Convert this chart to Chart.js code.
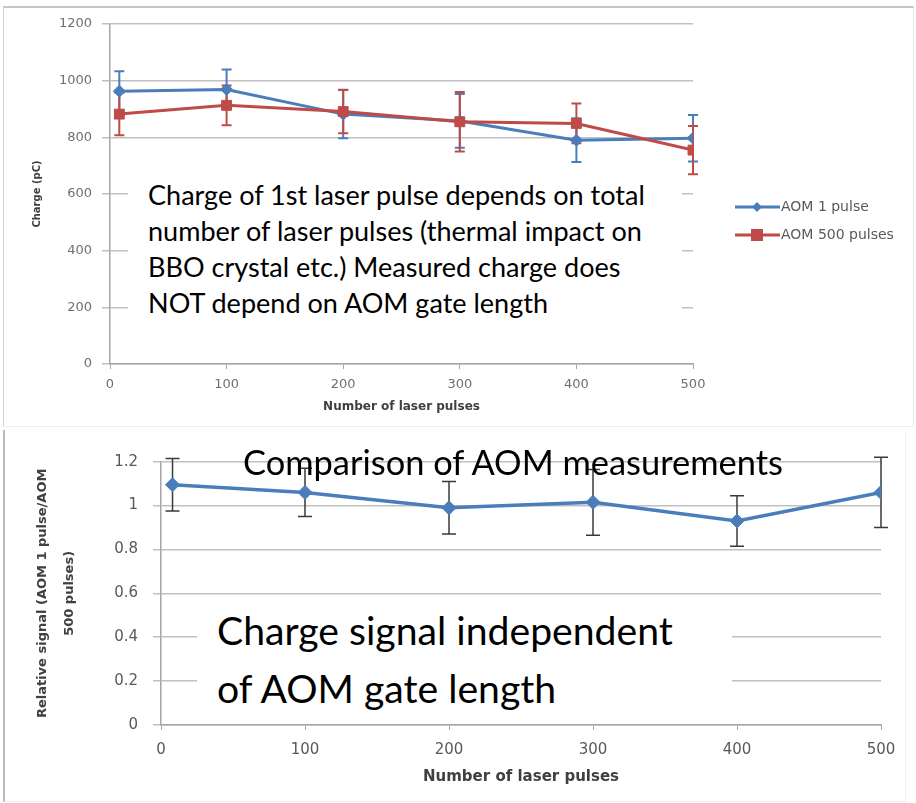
<!DOCTYPE html>
<html>
<head>
<meta charset="utf-8">
<script src="https://cdn.jsdelivr.net/npm/chart.js@4.4.1/dist/chart.umd.min.js"></script>
<style>
  body { margin: 0; background: #fff; width: 916px; height: 803px; overflow: hidden; position: relative; font-family: 'DejaVu Sans', sans-serif; }
  .frame { position: absolute; box-sizing: border-box; }
  #frame1 { left: 3px; top: 6px; width: 911px; height: 421px; border-top: 2px solid #c6c6c6; border-left: 1px solid #d0d0d0; border-right: 1px solid #eeeeee; border-bottom: 1px solid #eeeeee; }
  #frame2 { left: 3px; top: 430px; width: 903px; height: 372px; border-left: 2px solid #bcbcbc; border-bottom: 1px solid #eeeeee; border-right: 1px solid #f2f2f2; }
  canvas { position: absolute; left: 0; }
  #chart1 { top: 0; }
  #chart2 { top: 428px; }
  .note { position: absolute; color: #000; font-family: Lato, 'Open Sans', sans-serif; white-space: nowrap; }
  #note1 { left: 128px; top: 163px; width: 534px; height: 158px; padding: 14px 0 0 20px; background: #fff; line-height: 36px; }
  #note2 { left: 243px; top: 433px; line-height: 58px; }
  #note3 { left: 197px; top: 600px; width: 515px; height: 116px; padding: 1px 0 0 20px; background: #fff; line-height: 58px; }
</style>
</head>
<body>
<div class="frame" id="frame1"></div>
<div class="frame" id="frame2"></div>
<canvas id="chart1" width="916" height="428"></canvas>
<canvas id="chart2" width="916" height="375"></canvas>
<div class="note" id="note1">Charge of 1st laser pulse depends on total<br>number of laser pulses (thermal impact on<br>BBO crystal etc.) Measured charge does<br>NOT depend on AOM gate length</div>
<div class="note" id="note2">Comparison of AOM measurements</div>
<div class="note" id="note3">Charge signal independent<br>of AOM gate length</div>
<script>
// --- data ---
const pulses = [8, 100, 200, 300, 400, 500];
const aom1 = [963, 969, 882, 858, 790, 797];
const aom1Err = [70, 70, 85, 95, 77, 82];
const aom500 = [882, 913, 891, 855, 849, 755];
const aom500Err = [75, 70, 77, 105, 70, 85];
const ratio = [1.095, 1.06, 0.99, 1.015, 0.93, 1.06];
const ratioErr = [0.12, 0.11, 0.12, 0.15, 0.115, 0.16];
const chargeTicks = [0, 200, 400, 600, 800, 1000, 1200];
const ratioTicks = [0, 0.2, 0.4, 0.6, 0.8, 1, 1.2];
const pulseTicks = [0, 100, 200, 300, 400, 500];

const BLUE = '#4a7ebb';
const RED = '#be4b48';

// size the note fonts so the first line spans the same width as in the picture
function fitNote(id, firstLine, target) {
  const ctx = document.createElement('canvas').getContext('2d');
  ctx.font = '100px Lato';
  const w = ctx.measureText(firstLine).width;
  document.getElementById(id).style.fontSize = (100 * target / w).toFixed(2) + 'px';
}
fitNote('note1', 'Charge of 1st laser pulse depends on total', 498);
fitNote('note2', 'Comparison of AOM measurements', 542);
fitNote('note3', 'Charge signal independent', 456);

const points = (xs, ys) => xs.map((x, i) => ({ x: x, y: ys[i] }));
const plain = v => String(v);

// --- error bars drawn through the chart scales ---
const errorBars = {
  id: 'errorBars',
  beforeDatasetsDraw(chart) {
    const ctx = chart.ctx;
    const xs = chart.scales.x, ys = chart.scales.y;
    chart.data.datasets.forEach(ds => {
      if (!ds.errors) return;
      ctx.save();
      ctx.strokeStyle = ds.errColor || ds.borderColor;
      ctx.lineWidth = ds.errWidth || 2;
      const cap = ds.capHalf || 5;
      ds.data.forEach((p, i) => {
        const px = xs.getPixelForValue(p.x);
        const top = ys.getPixelForValue(p.y + ds.errors[i]);
        const bot = ys.getPixelForValue(p.y - ds.errors[i]);
        ctx.beginPath();
        ctx.moveTo(px, top); ctx.lineTo(px, bot);
        ctx.moveTo(px - cap, top); ctx.lineTo(px + cap, top);
        ctx.moveTo(px - cap, bot); ctx.lineTo(px + cap, bot);
        ctx.stroke();
      });
      ctx.restore();
    });
  }
};

// --- legend at the right of the top chart ---
const sideLegend = {
  id: 'sideLegend',
  afterDraw(chart) {
    const ctx = chart.ctx;
    const rows = chart.data.datasets.slice().sort((a, b) => a.legendRow - b.legendRow);
    rows.forEach((ds, i) => {
      const y = 207 + i * 28;
      ctx.save();
      ctx.strokeStyle = ds.borderColor;
      ctx.lineWidth = 3;
      ctx.beginPath(); ctx.moveTo(735, y); ctx.lineTo(780, y); ctx.stroke();
      ctx.fillStyle = ds.borderColor;
      ctx.beginPath();
      if (ds.pointStyle === 'rectRot') {
        ctx.moveTo(757, y - 5); ctx.lineTo(762, y); ctx.lineTo(757, y + 5); ctx.lineTo(752, y);
      } else {
        ctx.rect(751, y - 6, 12, 12);
      }
      ctx.fill();
      ctx.fillStyle = '#595959';
      ctx.font = '14px "DejaVu Sans"';
      ctx.textBaseline = 'middle';
      ctx.fillText(ds.label, 781, y);
      ctx.restore();
    });
  }
};

function axisTicks(values) {
  return function (scale) {
    scale.ticks = values.map(v => ({ value: v }));
  };
}

// --- top chart: charge vs number of pulses ---
new Chart(document.getElementById('chart1'), {
  type: 'scatter',
  data: {
    datasets: [
      {
        label: 'AOM 1 pulse', legendRow: 0, order: 1,
        data: points(pulses, aom1), errors: aom1Err,
        borderColor: BLUE, backgroundColor: BLUE, showLine: true, borderWidth: 3,
        pointStyle: 'rectRot', pointRadius: 6, pointBorderWidth: 1
      },
      {
        label: 'AOM 500 pulses', legendRow: 1, order: 0,
        data: points(pulses, aom500), errors: aom500Err,
        borderColor: RED, backgroundColor: RED, showLine: true, borderWidth: 3,
        pointStyle: 'rect', pointRadius: 7, pointBorderWidth: 1
      }
    ]
  },
  options: {
    responsive: false,
    animation: false,
    layout: { padding: { left: 31, top: 24, right: 223, bottom: 14 } },
    plugins: { legend: { display: false }, tooltip: { enabled: false } },
    scales: {
      x: {
        type: 'linear', min: 0, max: 500,
        afterBuildTicks: axisTicks(pulseTicks),
        ticks: { color: '#6f6f6f', font: { size: 13, family: 'DejaVu Sans' }, padding: 8, callback: plain },
        grid: { drawOnChartArea: false, tickLength: 5, color: '#a6a6a6' },
        border: { color: '#a6a6a6', width: 1.5 },
        title: { display: true, text: 'Number of laser pulses', color: '#404040', padding: 0,
                 font: { size: 12, weight: 'bold', family: 'DejaVu Sans' } },
        afterFit: s => { s.height = 50; }
      },
      y: {
        min: 0, max: 1200,
        afterBuildTicks: axisTicks(chargeTicks),
        ticks: { color: '#6f6f6f', font: { size: 13, family: 'DejaVu Sans' }, padding: 10, callback: plain },
        grid: { color: '#c0c0c0', lineWidth: 1.5, tickLength: 8 },
        border: { color: '#a6a6a6', width: 1.5 },
        title: { display: true, text: 'Charge (pC)', color: '#404040', padding: 0,
                 font: { size: 10, weight: 'bold', family: 'DejaVu Sans' } },
        afterFit: s => { s.width = 79; }
      }
    }
  },
  plugins: [errorBars, sideLegend]
});

// --- bottom chart: relative signal ---
new Chart(document.getElementById('chart2'), {
  type: 'scatter',
  data: {
    datasets: [
      {
        label: 'AOM 1 pulse / AOM 500 pulses',
        data: points(pulses, ratio), errors: ratioErr,
        errColor: '#3a3a3a', errWidth: 1.5, capHalf: 7,
        borderColor: BLUE, backgroundColor: BLUE, showLine: true, borderWidth: 3.5,
        pointStyle: 'rectRot', pointRadius: 7, pointBorderWidth: 1
      }
    ]
  },
  options: {
    responsive: false,
    animation: false,
    layout: { padding: { left: 29.5, top: 33.7, right: 35, bottom: 17 } },
    plugins: { legend: { display: false }, tooltip: { enabled: false } },
    scales: {
      x: {
        type: 'linear', min: 0, max: 500,
        afterBuildTicks: axisTicks(pulseTicks),
        ticks: { color: '#595959', font: { size: 15, family: 'DejaVu Sans' }, padding: 11, callback: plain },
        grid: { drawOnChartArea: false, tickLength: 5, color: '#a6a6a6' },
        border: { color: '#a6a6a6', width: 1.5 },
        title: { display: true, text: 'Number of laser pulses', color: '#404040', padding: 0,
                 font: { size: 15, weight: 'bold', family: 'DejaVu Sans' } },
        afterFit: s => { s.height = 61; }
      },
      y: {
        min: 0, max: 1.2,
        afterBuildTicks: axisTicks(ratioTicks),
        ticks: { color: '#595959', font: { size: 15, family: 'DejaVu Sans' }, padding: 15, callback: plain },
        grid: { color: '#c0c0c0', lineWidth: 1.5, tickLength: 8 },
        border: { color: '#a6a6a6', width: 1.5 },
        title: { display: true, text: ['Relative signal (AOM 1 pulse/AOM', '500 pulses)'], color: '#404040', padding: 0,
                 font: { size: 13, weight: 'bold', family: 'DejaVu Sans', lineHeight: 27 / 13 } },
        afterFit: s => { s.width = 131.5; }
      }
    }
  },
  plugins: [errorBars]
});
</script>
</body>
</html>
